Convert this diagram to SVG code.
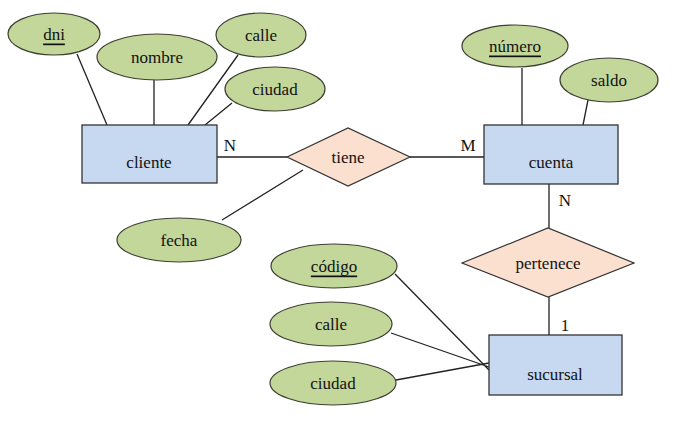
<svg xmlns="http://www.w3.org/2000/svg" width="699" height="426" viewBox="0 0 699 426" font-family="'Liberation Serif','Times New Roman','DejaVu Serif',serif">
<style>
.a{fill:#c4d79b;stroke:#3a3f30;stroke-width:1.2}
.e{fill:#c6d9f1;stroke:#333;stroke-width:1.3}
.r{fill:#fbe0cf;stroke:#333;stroke-width:1.2}
text{font-family:'Liberation Serif','Times New Roman','DejaVu Serif',serif;font-size:17px;fill:#111;text-anchor:middle;dominant-baseline:central}
.l{stroke:#222;stroke-width:1.3;fill:none}
</style>
<rect width="699" height="426" fill="#fff"/>
<g id="connectors">
<path class="l" d="M77,54L107,125M154,80V125M238,55L188,125M232,103L205,125M217,157H287M303,170L222,220M410,157H484M522,68V125M588,100L583,125M549,184V228M549,297V335M395,274L489,370M391,333L489,367M396,380L489,363"/>
<text x="230" y="145">N</text><text x="468" y="145">M</text><text x="565" y="200">N</text><text x="565" y="325">1</text>
</g>
<g id="dni"><ellipse class="a" cx="54" cy="34" rx="46" ry="21"/><text x="54" y="34" text-decoration="underline">dni</text></g>
<g id="nombre"><ellipse class="a" cx="157" cy="57" rx="60" ry="23"/><text x="157" y="57">nombre</text></g>
<g id="calle1"><ellipse class="a" cx="261" cy="35" rx="45" ry="22"/><text x="261" y="35">calle</text></g>
<g id="ciudad1"><ellipse class="a" cx="275" cy="89" rx="50" ry="22"/><text x="275" y="89">ciudad</text></g>
<g id="cliente"><rect class="e" x="82" y="125" width="135" height="58"/><text x="149" y="162">cliente</text></g>
<g id="tiene"><polygon class="r" points="287,157 348,128 410,157 348,186"/><text x="348" y="157">tiene</text></g>
<g id="fecha"><ellipse class="a" cx="179" cy="240" rx="62" ry="22"/><text x="179" y="240">fecha</text></g>
<g id="cuenta"><rect class="e" x="484" y="125" width="134" height="59"/><text x="551" y="162">cuenta</text></g>
<g id="numero"><ellipse class="a" cx="515" cy="46" rx="53" ry="21"/><text x="515" y="46" text-decoration="underline">número</text></g>
<g id="saldo"><ellipse class="a" cx="609" cy="80" rx="49" ry="22"/><text x="609" y="80">saldo</text></g>
<g id="pertenece"><polygon class="r" points="462,263 548,228 634,263 548,297"/><text x="548" y="263">pertenece</text></g>
<g id="sucursal"><rect class="e" x="489" y="335" width="133" height="60"/><text x="555" y="374">sucursal</text></g>
<g id="codigo"><ellipse class="a" cx="334" cy="266" rx="63" ry="22"/><text x="334" y="266" text-decoration="underline">código</text></g>
<g id="calle2"><ellipse class="a" cx="331" cy="324" rx="61" ry="22"/><text x="331" y="324">calle</text></g>
<g id="ciudad2"><ellipse class="a" cx="333" cy="383" rx="63" ry="22"/><text x="333" y="383">ciudad</text></g>
</svg>
